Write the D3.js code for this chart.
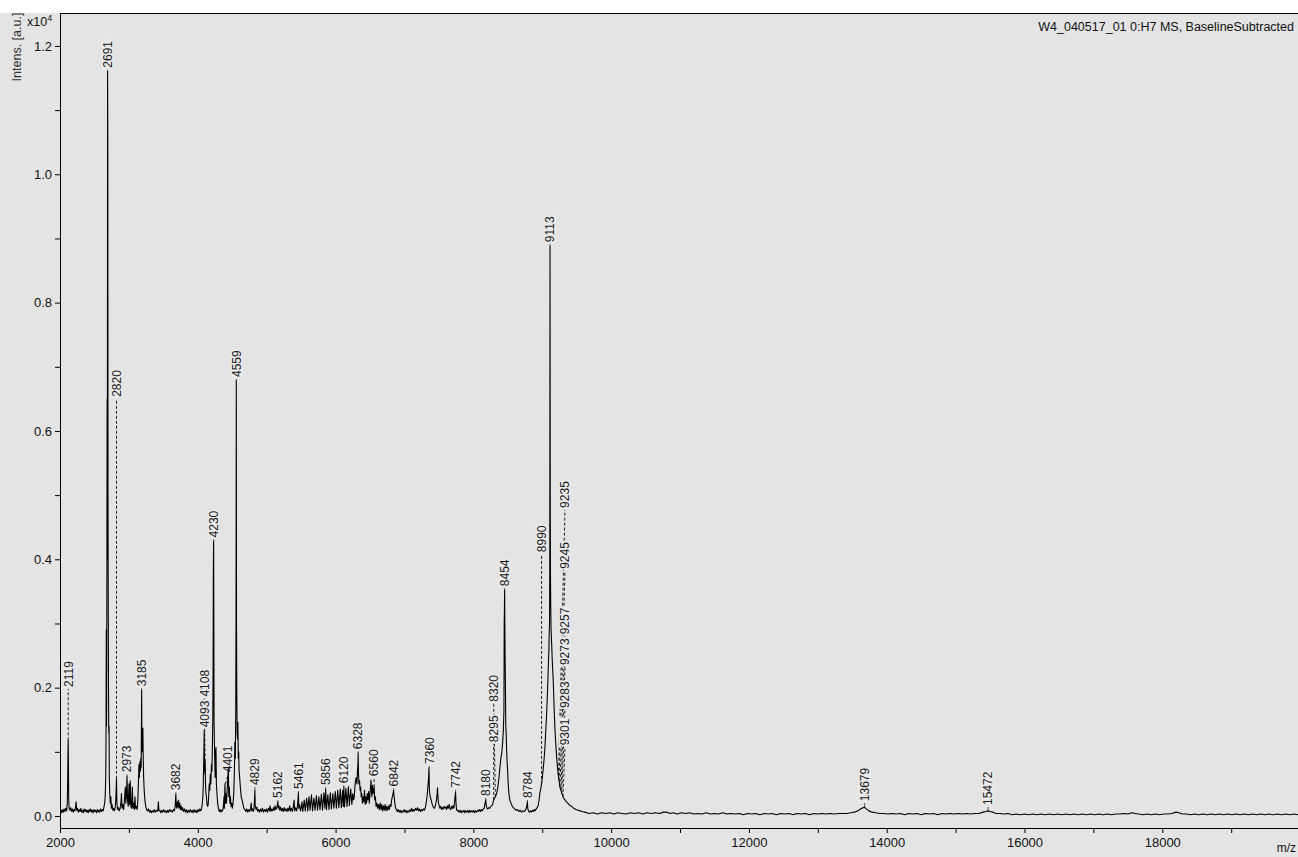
<!DOCTYPE html>
<html>
<head>
<meta charset="utf-8">
<script src="https://cdn.jsdelivr.net/npm/d3@7"></script>
<style>
  html, body { margin: 0; padding: 0; background: #ffffff; }
  svg { display: block; font-family: "Liberation Sans", Arial, sans-serif; }
</style>
</head>
<body>
<svg id="chart" width="1298" height="857"></svg>
<script>
// ---------------- DATA ----------------
const title = "W4_040517_01 0:H7 MS, BaselineSubtracted";
const yAxisTitle = "Intens. [a.u.]";
const xAxisTitle = "m/z";
const xTicks = [2000,3000,4000,5000,6000,7000,8000,9000,10000,11000,12000,13000,14000,15000,16000,17000,18000,19000];
const xTickLabels = [2000,4000,6000,8000,10000,12000,14000,16000,18000];
const yTicks = [0.0,0.1,0.2,0.3,0.4,0.5,0.6,0.7,0.8,0.9,1.0,1.1,1.2];
const yTickLabels = [0.0,0.2,0.4,0.6,0.8,1.0,1.2];

// spectrum [m/z, intensity x10^4]
const spectrum2000 = [[2000,.006],[2012,.009],[2024,.005],[2036,.01],[2048,.006],[2060,.011],[2072,.007],[2084,.012],[2096,.008],[2106,.02],[2112,.06],[2116,.1],[2119,.118],[2122,.09],[2126,.03],[2132,.012],[2144,.009],[2156,.013],[2168,.007],[2180,.011],[2192,.006],[2204,.01],[2216,.008],[2226,.014],[2234,.022],[2242,.009],[2254,.012],[2266,.006],[2278,.01],[2290,.007],[2302,.012],[2314,.006],[2326,.009],[2338,.005],[2350,.011],[2362,.007],[2374,.01],[2386,.006],[2398,.009],[2410,.005],[2422,.01],[2434,.007],[2446,.011],[2458,.006],[2470,.009],[2482,.005],[2494,.01],[2506,.007],[2518,.009],[2530,.005],[2542,.01],[2554,.006],[2566,.009],[2578,.006],[2590,.011],[2602,.007],[2614,.01],[2626,.008],[2638,.014],[2648,.02],[2656,.03]];
const spectrum2660 = [[2664,.06],[2668,.12],[2672,.29],[2676,.14],[2680,.34],[2684,.65],[2687,.4],[2691,1.16],[2694,1.04],[2697,.5],[2700,.35],[2704,.2],[2708,.13],[2712,.14],[2716,.06],[2722,.035],[2730,.02],[2738,.03],[2746,.012],[2756,.018],[2766,.009],[2778,.012],[2790,.008],[2802,.014],[2812,.03],[2820,.058],[2826,.02],[2836,.01],[2848,.013],[2860,.008],[2872,.012],[2884,.02],[2892,.035],[2900,.012],[2912,.018],[2924,.01],[2936,.025],[2948,.045],[2956,.02],[2964,.035],[2973,.062],[2980,.025],[2990,.015],[3002,.05],[3010,.018],[3020,.055],[3028,.015],[3040,.012],[3050,.045],[3058,.012],[3070,.02],[3080,.01],[3088,.03],[3096,.012],[3108,.015],[3120,.01],[3130,.025],[3138,.05],[3146,.08],[3152,.06],[3160,.085],[3166,.07],[3172,.09],[3178,.075],[3185,.196],[3190,.1],[3196,.125],[3203,.137],[3208,.09],[3214,.06],[3222,.04],[3232,.025],[3244,.015],[3258,.01],[3270,.008],[3284,.011]];
const spectrum3300 = [[3298,.006],[3312,.009],[3326,.005],[3340,.008],[3354,.006],[3368,.01],[3382,.006],[3396,.009],[3410,.007],[3420,.01],[3428,.022],[3436,.008],[3450,.009],[3464,.005],[3478,.009],[3492,.006],[3506,.01],[3520,.006],[3534,.008],[3548,.005],[3562,.009],[3576,.006],[3590,.01],[3604,.007],[3618,.009],[3632,.006],[3646,.01],[3660,.008],[3672,.016],[3678,.028],[3682,.034],[3688,.015],[3696,.012],[3704,.022],[3712,.014],[3720,.025],[3728,.012],[3738,.02],[3748,.01],[3758,.016],[3768,.009],[3780,.013],[3792,.007],[3806,.011],[3820,.006],[3834,.01],[3848,.005],[3862,.009],[3876,.006],[3890,.01],[3904,.006],[3918,.009],[3932,.005],[3946,.01],[3960,.006],[3974,.009],[3988,.005],[4002,.01],[4016,.007],[4030,.011],[4044,.008],[4056,.012],[4066,.02],[4074,.03],[4080,.05],[4086,.085],[4093,.132],[4097,.07],[4101,.08],[4104,.065],[4108,.085],[4112,.05],[4118,.035],[4126,.03],[4134,.018],[4142,.015],[4150,.017],[4158,.03],[4166,.05],[4174,.04],[4182,.065],[4190,.05],[4198,.08],[4206,.07],[4212,.11],[4218,.15],[4222,.224],[4226,.39],[4230,.428],[4233,.3],[4236,.15],[4240,.12],[4246,.09],[4252,.06],[4258,.1],[4264,.107],[4270,.05],[4278,.035],[4288,.02],[4300,.012],[4312,.007],[4324,.01],[4336,.006],[4348,.009],[4360,.008],[4372,.015],[4380,.03],[4386,.012],[4394,.05],[4400,.02],[4408,.035],[4416,.02],[4426,.04],[4436,.06],[4443,.076],[4450,.03],[4458,.045],[4466,.02],[4474,.03],[4482,.015],[4492,.02],[4502,.012],[4512,.02],[4522,.035],[4530,.06],[4538,.115],[4545,.09],[4551,.16],[4555,.308],[4559,.678],[4562,.308],[4566,.2],[4571,.13],[4577,.12],[4582,.146],[4588,.09],[4594,.1],[4600,.07],[4608,.06],[4618,.045],[4630,.03],[4642,.025],[4656,.018],[4670,.012],[4684,.01],[4698,.007]];
const spectrum4700 = [[4712,.011],[4726,.006],[4740,.01],[4754,.007],[4766,.012],[4776,.02],[4784,.008],[4796,.011],[4808,.007],[4818,.015],[4825,.03],[4829,.04],[4834,.015],[4846,.01],[4858,.014],[4870,.007],[4884,.01],[4898,.006],[4912,.011],[4926,.007],[4940,.012],[4954,.006],[4968,.01],[4982,.007],[4996,.011],[5010,.006],[5024,.012],[5038,.008],[5050,.016],[5060,.007],[5074,.011],[5088,.008],[5100,.013],[5112,.009],[5122,.016],[5132,.01],[5144,.012],[5156,.018],[5162,.022],[5168,.012],[5178,.016],[5188,.009],[5200,.014],[5212,.008],[5226,.012],[5240,.007],[5254,.013],[5266,.008],[5280,.011],[5294,.007],[5306,.012],[5320,.008],[5334,.016],[5344,.008],[5358,.012],[5372,.007],[5386,.014],[5398,.025],[5406,.008],[5420,.013],[5434,.008],[5446,.015],[5456,.028],[5461,.036],[5466,.012],[5478,.018],[5490,.008],[5502,.012],[5512,.022],[5524,.007],[5545,.025],[5560,.008],[5580,.028],[5596,.008],[5614,.03],[5630,.009],[5650,.033],[5666,.008],[5686,.028],[5702,.009],[5722,.032],[5738,.009],[5758,.03],[5774,.01],[5794,.034],[5810,.009],[5830,.036],[5845,.012],[5856,.042],[5868,.01],[5888,.033],[5904,.01],[5924,.036],[5940,.011],[5960,.035],[5976,.012],[5996,.038],[6012,.012],[6032,.04],[6048,.013],[6068,.042],[6084,.013],[6102,.04],[6112,.015],[6120,.045],[6130,.014],[6150,.043],[6166,.015],[6186,.046],[6200,.016],[6220,.042],[6236,.018],[6250,.035],[6262,.025],[6272,.03],[6280,.045],[6290,.055],[6300,.06],[6310,.05],[6318,.07],[6324,.08],[6328,.098],[6333,.065],[6340,.05],[6348,.055],[6356,.04],[6364,.045],[6372,.03],[6380,.035],[6390,.02],[6400,.03],[6410,.022],[6420,.04],[6430,.018],[6440,.03],[6450,.02],[6460,.035],[6470,.025],[6480,.038],[6490,.02],[6500,.035],[6508,.045],[6514,.056],[6520,.04],[6528,.03],[6536,.048],[6544,.035],[6552,.04],[6560,.045],[6568,.025],[6578,.03],[6588,.015],[6600,.02],[6612,.012],[6624,.018],[6636,.01],[6648,.02],[6660,.01],[6672,.018],[6684,.008],[6696,.016],[6708,.009],[6720,.018],[6732,.008],[6744,.015],[6756,.009],[6768,.016],[6780,.01],[6792,.018],[6804,.015],[6814,.025],[6824,.03],[6834,.035],[6842,.04],[6850,.03],[6860,.02],[6872,.012],[6884,.01],[6896,.007]];
const spectrum6900 = [[6910,.01],[6924,.006],[6938,.009],[6952,.005],[6966,.008],[6980,.006],[6994,.01],[7008,.006],[7022,.009],[7036,.005],[7050,.008],[7064,.006],[7078,.01],[7092,.007],[7106,.012],[7120,.007],[7134,.01],[7148,.008],[7162,.012],[7176,.009],[7190,.013],[7204,.008],[7218,.011],[7232,.007],[7246,.01],[7260,.008],[7274,.011],[7288,.009],[7300,.012],[7312,.018],[7322,.025],[7332,.035],[7340,.045],[7350,.06],[7356,.075],[7362,.04],[7370,.032],[7378,.028],[7388,.025],[7398,.02],[7410,.016],[7422,.013],[7434,.012],[7446,.015],[7456,.02],[7466,.025],[7474,.035],[7480,.044],[7486,.03],[7494,.02],[7504,.016],[7516,.012],[7528,.015],[7540,.01],[7552,.013],[7564,.011],[7576,.015],[7588,.012],[7600,.014],[7612,.01],[7624,.016],[7636,.012],[7648,.018],[7660,.012],[7672,.01],[7684,.015],[7696,.012],[7706,.016],[7716,.012],[7726,.02],[7734,.03],[7742,.037],[7748,.02],[7756,.01],[7768,.008],[7780,.009],[7794,.006],[7808,.009],[7822,.005],[7836,.008],[7850,.006],[7864,.009],[7878,.005],[7892,.008],[7906,.006],[7920,.009],[7934,.005],[7948,.009],[7962,.006],[7976,.008],[7990,.006],[8004,.009],[8018,.005],[8032,.008],[8046,.006],[8060,.009],[8074,.007],[8088,.01],[8102,.007],[8116,.01],[8130,.008],[8144,.011],[8156,.012],[8166,.018],[8174,.022],[8180,.025],[8188,.016],[8198,.012],[8210,.011],[8224,.013],[8238,.012],[8252,.015],[8266,.016],[8280,.018],[8295,.025],[8308,.028],[8320,.03],[8338,.035],[8356,.045],[8372,.06],[8386,.076],[8400,.09],[8414,.1],[8425,.114],[8436,.135],[8444,.165],[8448,.3],[8451,.32],[8454,.352],[8457,.3],[8461,.25],[8466,.2],[8471,.14],[8476,.13],[8484,.1],[8492,.08],[8497,.072],[8506,.05],[8516,.035],[8530,.025],[8546,.02],[8562,.016],[8580,.013],[8600,.011],[8620,.009],[8640,.01],[8660,.007],[8680,.009],[8700,.006],[8720,.008],[8740,.007],[8756,.009],[8768,.012],[8776,.016],[8784,.022],[8790,.012],[8800,.008],[8814,.006],[8828,.008],[8842,.006],[8856,.009],[8870,.007],[8884,.01],[8898,.008],[8912,.011],[8926,.013],[8940,.016],[8954,.025],[8966,.036],[8978,.042],[8990,.05],[9002,.06],[9015,.075],[9028,.09],[9039,.107],[9050,.13],[9062,.155],[9073,.185],[9082,.21],[9090,.24],[9097,.26],[9102,.29],[9106,.3],[9109,.383],[9113,.888],[9116,.5],[9119,.383],[9123,.33],[9128,.29],[9136,.27],[9146,.24],[9160,.21],[9172,.17],[9185,.134],[9198,.11],[9210,.09],[9222,.075],[9233,.063],[9245,.055],[9257,.045],[9265,.042],[9273,.04],[9283,.035],[9292,.033],[9301,.03],[9315,.027],[9330,.025],[9350,.022],[9370,.02],[9395,.017],[9426,.015],[9456,.012],[9490,.01],[9520,.009],[9550,.008],[9580,.007]];
const spectrum9600 = [[9620,.006],[9680,.004],[9740,.005],[9800,.003],[9860,.005],[9920,.004],[9980,.005],[10040,.003],[10100,.005],[10160,.004],[10220,.003],[10280,.005],[10340,.004],[10400,.005],[10460,.003],[10520,.005],[10580,.004],[10640,.005],[10700,.004],[10760,.006],[10800,.006],[10860,.004],[10900,.005],[10960,.003],[11020,.005],[11080,.004],[11140,.005],[11200,.003],[11260,.004],[11320,.003],[11380,.005],[11440,.003],[11500,.004],[11560,.003],[11620,.005],[11680,.003],[11740,.004],[11800,.003],[11860,.004],[11920,.002],[11980,.004],[12040,.003],[12100,.004],[12160,.002],[12220,.004],[12280,.003],[12340,.004],[12400,.002],[12460,.004],[12520,.003],[12580,.004],[12640,.002],[12700,.004],[12760,.003],[12820,.004],[12880,.002],[12940,.004],[13000,.003],[13060,.004],[13120,.003],[13180,.004],[13240,.003],[13300,.004],[13360,.004],[13420,.004],[13480,.005],[13530,.006],[13580,.008],[13620,.011],[13655,.013],[13679,.0135],[13705,.011],[13740,.008],[13790,.006],[13840,.005],[13900,.004],[13960,.004],[14020,.003],[14080,.004],[14140,.003],[14200,.004],[14260,.002],[14320,.004],[14380,.003],[14440,.004],[14500,.002],[14560,.004],[14620,.003],[14680,.004],[14740,.002],[14800,.004],[14860,.003],[14920,.004],[14980,.003],[15040,.004],[15100,.003],[15160,.004],[15220,.003],[15280,.004],[15340,.004],[15400,.006],[15440,.007],[15472,.008],[15500,.007],[15540,.006],[15590,.004],[15640,.004],[15700,.003],[15760,.004],[15820,.002],[15880,.003],[15940,.002],[16000,.003],[16060,.002],[16120,.003],[16180,.002],[16240,.003],[16300,.002],[16360,.003],[16420,.002],[16480,.003],[16540,.002],[16600,.003],[16660,.002],[16720,.003],[16780,.002],[16840,.003],[16900,.002],[16960,.003],[17020,.002],[17080,.003],[17140,.002],[17200,.003],[17260,.002],[17320,.003],[17380,.003],[17440,.004],[17500,.003],[17560,.005],[17610,.004],[17660,.003],[17720,.002],[17780,.003],[17840,.002],[17900,.003],[17960,.002],[18020,.003],[18080,.003],[18140,.004],[18200,.006],[18240,.005],[18290,.003],[18350,.003],[18410,.002],[18470,.003],[18530,.002],[18590,.003],[18650,.002],[18710,.003],[18770,.002],[18830,.003],[18890,.002],[18950,.003],[19010,.002],[19070,.003],[19130,.002],[19190,.003],[19250,.002],[19310,.003],[19370,.002],[19430,.003],[19490,.002],[19550,.003],[19610,.002],[19670,.003],[19730,.002],[19790,.003],[19850,.002],[19910,.003],[19970,.002]];

// peak labels: m/z, apex intensity, label anchor intensity, label m/z position
const labelMz     = [2119,2691,2820,2973,3185,3682,4093,4108,4230,4401,4559,4829,5162,5461,5856,6120,6328,6560,6842,7360,7742,8180,8295,8320,8454,8784,8990,9113,9235,9245,9257,9273,9283,9301,13679,15472];
const labelApex   = [0.118,1.16,0.058,0.062,0.196,0.034,0.132,0.085,0.428,0.05,0.678,0.04,0.022,0.036,0.042,0.045,0.098,0.045,0.04,0.075,0.037,0.025,0.025,0.03,0.352,0.022,0.05,0.888,0.063,0.055,0.045,0.04,0.035,0.03,0.0135,0.008];
const labelAnchor = [0.198,1.163,0.650,0.065,0.199,0.037,0.135,0.183,0.431,0.065,0.681,0.045,0.025,0.039,0.045,0.048,0.101,0.059,0.043,0.078,0.041,0.028,0.112,0.175,0.355,0.025,0.408,0.891,0.477,0.382,0.280,0.232,0.165,0.107,0.02,0.014];
const labelAt     = [2119,2691,2820,2973,3185,3682,4093,4093,4230,4440,4559,4829,5162,5461,5856,6120,6328,6560,6842,7360,7742,8180,8295,8295,8454,8784,8990,9113,9330,9330,9330,9330,9330,9330,13679,15472];

// ---------------- DRAW ----------------
const spectrum = [].concat(spectrum2000, spectrum2660, spectrum3300, spectrum4700, spectrum6900, spectrum9600);
const svg = d3.select("#chart");
const W = 1298, H = 857;
const L = 60, T = 13, R = 1298, B = 828;
const bg = "#e4e4e4";

svg.append("rect").attr("x",0).attr("y",0).attr("width",W).attr("height",H).attr("fill","#ffffff");
svg.append("rect").attr("x",0).attr("y",T).attr("width",W).attr("height",H-T).attr("fill",bg);

const x = d3.scaleLinear().domain([2000, 19970]).range([L, R]);
const y = d3.scaleLinear().domain([-0.0187, 1.2513]).range([B, T]);

svg.append("defs").append("clipPath").attr("id","plotclip")
  .append("rect").attr("x",L).attr("y",T).attr("width",R-L).attr("height",B-T);

const plot = svg.append("g").attr("clip-path","url(#plotclip)");
const leaderLayer = plot.append("g");
const rectLayer = plot.append("g");
const lineLayer = plot.append("g");
const textLayer = plot.append("g");

// leaders
labelMz.forEach((mz,i) => {
  const x0 = x(mz), y0 = y(labelApex[i]);
  const x1 = x(labelAt[i]), y1 = y(labelAnchor[i]);
  const long = (y0 - y1) > 7;
  leaderLayer.append("line")
    .attr("x1",x0).attr("y1",y0).attr("x2",x1).attr("y2",y1)
    .attr("stroke", long ? "#222" : "#555")
    .attr("stroke-width",1)
    .attr("stroke-dasharray", long ? "3,2" : null);
});

// spectrum
const line = d3.line().x(d => x(d[0])).y(d => y(d[1]));
lineLayer.append("path").datum(spectrum)
  .attr("d", line).attr("fill","none").attr("stroke","#000").attr("stroke-width",1.1)
  .attr("stroke-linejoin","round");

// labels
labelMz.forEach((mz,i) => {
  const tx = x(labelAt[i]), ty = y(labelAnchor[i]) - 2;
  const g = textLayer.append("g").attr("transform",`translate(${tx},${ty}) rotate(-90)`);
  const t = g.append("text").text(String(mz))
    .attr("x",0).attr("y",0).attr("dy","0.36em")
    .attr("font-size","12px").attr("fill","#1a1a1a");
  const len = t.node().getComputedTextLength();
  rectLayer.append("rect")
    .attr("transform",`translate(${tx},${ty}) rotate(-90)`)
    .attr("x",-1).attr("y",-6).attr("width",len+2).attr("height",12)
    .attr("fill","#e9e9e9");
});

// axes
const xAxis = d3.axisBottom(x).tickValues(xTicks).tickSize(5).tickSizeOuter(0)
  .tickFormat(d => xTickLabels.includes(d) ? String(d) : "");
const gx = svg.append("g").attr("transform",`translate(0,${B})`).call(xAxis);
gx.select(".domain").attr("stroke","#000");
gx.selectAll(".tick line").attr("stroke","#000");
gx.selectAll(".tick text").attr("font-size","13px").attr("fill","#111").attr("dy","0.85em")
  .attr("font-family","Liberation Sans, Arial, sans-serif");

const yAxis = d3.axisLeft(y).tickValues(yTicks).tickSize(5).tickSizeOuter(0)
  .tickFormat(d => yTickLabels.some(v => Math.abs(v-d) < 1e-9) ? d3.format(".1f")(d) : "");
const gy = svg.append("g").attr("transform",`translate(${L},0)`).call(yAxis);
gy.select(".domain").attr("stroke","#000");
gy.selectAll(".tick line").attr("stroke","#000");
gy.selectAll(".tick text").attr("font-size","13px").attr("fill","#111").attr("x",-8)
  .attr("font-family","Liberation Sans, Arial, sans-serif");

// top border
svg.append("line").attr("x1",L).attr("x2",R).attr("y1",T+0.5).attr("y2",T+0.5)
  .attr("stroke","#000").attr("stroke-width",1);

// titles
svg.append("text").attr("x",1294).attr("y",31).attr("text-anchor","end")
  .attr("font-size","12.5px").attr("fill","#111").text(title);

svg.append("text").attr("transform","translate(21,47) rotate(-90)")
  .attr("text-anchor","middle").attr("font-size","12.5px").attr("fill","#333").text(yAxisTitle);

const mult = svg.append("text").attr("x",27).attr("y",26).attr("font-size","12.5px").attr("fill","#111");
mult.append("tspan").text("x10");
mult.append("tspan").attr("dy",-5).attr("font-size","9px").text("4");

svg.append("text").attr("x",1296).attr("y",852).attr("text-anchor","end")
  .attr("font-size","12px").attr("fill","#111").text(xAxisTitle);
</script>
</body>
</html>
